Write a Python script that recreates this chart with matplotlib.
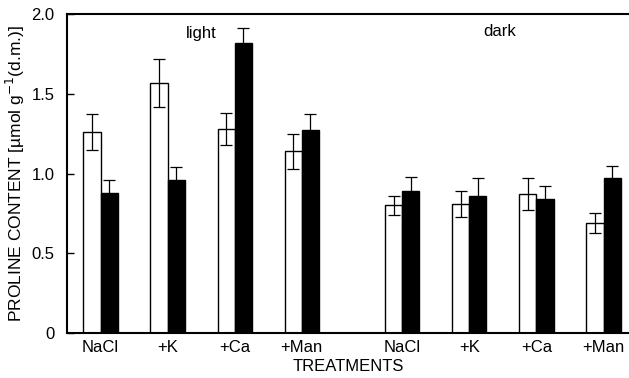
import numpy as np
import matplotlib
matplotlib.use('Agg')
import matplotlib.pyplot as plt

plt.rcParams['font.family'] = ['Liberation Sans', 'DejaVu Sans']

# treatment labels, light groups then dark groups
treatments = ['NaCl', '+K', '+Ca', '+Man', 'NaCl', '+K', '+Ca', '+Man']
group_pos = [0, 1, 2, 3, 4.5, 5.5, 6.5, 7.5]

# open bars and filled bars with their errors
white_vals = [1.26, 1.57, 1.28, 1.14, 0.80, 0.81, 0.87, 0.69]
white_err = [0.11, 0.15, 0.10, 0.11, 0.06, 0.08, 0.10, 0.065]
black_vals = [0.88, 0.96, 1.82, 1.27, 0.89, 0.86, 0.84, 0.97]
black_err = [0.08, 0.08, 0.09, 0.10, 0.09, 0.11, 0.08, 0.075]

x = np.array(group_pos)
w = 0.255

fig = plt.figure(figsize=(6.29, 3.78), dpi=100)
ax = fig.add_axes([67/629, 45/378, 562/629, 319/378])

ax.bar(x - w/2, white_vals, w, color='white', edgecolor='black', linewidth=1.0)
ax.bar(x + w/2, black_vals, w, color='black', edgecolor='black', linewidth=1.0)
ax.errorbar(x - w/2, white_vals, yerr=white_err, fmt='none', ecolor='black',
            elinewidth=0.9, capsize=4.5, capthick=0.9)
ax.errorbar(x + w/2, black_vals, yerr=black_err, fmt='none', ecolor='black',
            elinewidth=0.9, capsize=4, capthick=0.9)

ax.set_xlim(-0.5, 7.88)
ax.set_ylim(0, 2.0)
ax.set_yticks([0, 0.5, 1.0, 1.5, 2.0])
ax.set_yticklabels(['0', '0.5', '1.0', '1.5', '2.0'])
ax.set_xticks(x)
ax.set_xticklabels(treatments)
ax.tick_params(axis='y', direction='in', length=5, width=1, labelsize=12, pad=9)
ax.tick_params(axis='x', length=0, labelsize=12, pad=5)

ax.spines['right'].set_visible(False)
for s in ['left', 'bottom', 'top']:
    ax.spines[s].set_linewidth(1.5)

ax.text(1.5, 1.88, 'light', ha='center', va='center', fontsize=12)
ax.text(5.95, 1.89, 'dark', ha='center', va='center', fontsize=12)

ax.set_xlabel('TREATMENTS', fontsize=12, labelpad=3)
ax.set_ylabel('PROLINE CONTENT [µmol g$^{-1}$(d.m.)]', fontsize=12.5, labelpad=3)

fig.savefig('out.png', dpi=100)
